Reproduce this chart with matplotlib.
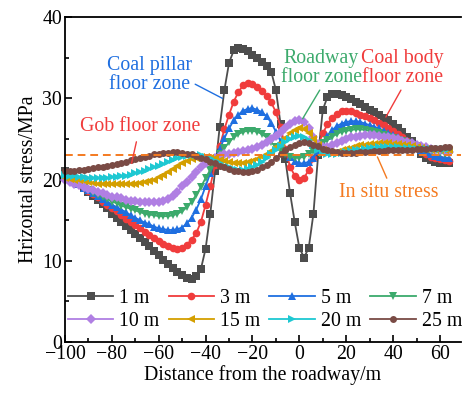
import matplotlib
matplotlib.use("Agg")
import matplotlib.pyplot as plt
import numpy as np
from matplotlib.ticker import MultipleLocator

plt.rcParams['font.family'] = ['Liberation Serif', 'DejaVu Serif']
plt.rcParams['mathtext.fontset'] = 'stix'

distance = np.arange(-100, 65, 2)

s1m = [21.0, 20.5, 20.0, 19.5, 19.0, 18.5, 18.0, 17.5, 17.0, 16.5,
       15.8, 15.3, 14.8, 14.3, 13.8, 13.3, 12.8, 12.3, 11.8, 11.2,
       10.7, 10.1, 9.6, 9.1, 8.6, 8.2, 7.9, 7.8, 8.1, 9.0,
       11.5, 15.8, 21.0, 26.5, 31.0, 34.4, 35.9, 36.2, 36.1, 35.8,
       35.4, 35.0, 34.5, 34.0, 33.3, 31.0, 26.8, 22.5, 18.4, 14.8,
       11.6, 10.4, 11.6, 15.8, 23.0, 28.6, 30.2, 30.5, 30.6, 30.4,
       30.2, 29.9, 29.6, 29.3, 29.0, 28.6, 28.3, 28.0, 27.6, 27.3,
       26.9, 26.4, 25.9, 25.3, 24.7, 23.9, 23.2, 22.7, 22.4, 22.2,
       22.1, 22.0, 22.0]
s3m = [20.6, 20.2, 19.8, 19.4, 19.0, 18.6, 18.2, 17.8, 17.3, 16.9,
       16.5, 16.1, 15.6, 15.2, 14.8, 14.4, 14.0, 13.6, 13.2, 12.8,
       12.4, 12.1, 11.8, 11.6, 11.4, 11.6, 12.0, 12.6, 13.4, 14.8,
       16.9, 19.2, 21.8, 24.1, 26.2, 28.0, 29.6, 30.8, 31.6, 31.9,
       31.8, 31.4, 30.9, 30.3, 29.5, 28.3, 26.5, 23.8, 21.6, 20.5,
       20.0, 20.2, 21.2, 22.6, 24.2, 25.7, 26.8, 27.6, 28.1, 28.4,
       28.4, 28.4, 28.2, 28.0, 27.8, 27.6, 27.3, 27.0, 26.7, 26.4,
       26.0, 25.6, 25.2, 24.8, 24.4, 24.0, 23.5, 23.1, 22.8, 22.6,
       22.5, 22.4, 22.3]
s5m = [20.4, 20.1, 19.7, 19.4, 19.0, 18.7, 18.3, 18.0, 17.6, 17.3,
       16.9, 16.6, 16.3, 16.0, 15.6, 15.3, 15.0, 14.7, 14.5, 14.2,
       14.0, 13.9, 13.8, 13.8, 13.9, 14.1, 14.6, 15.3, 16.3, 17.6,
       19.2, 20.8, 22.3, 23.8, 25.1, 26.3, 27.3, 28.0, 28.5, 28.7,
       28.8, 28.6, 28.3, 27.8, 27.0, 25.9, 24.7, 23.6, 22.8, 22.3,
       22.0, 22.0, 22.2, 22.7, 23.5, 24.5, 25.4, 26.1, 26.6, 26.9,
       27.1, 27.2, 27.2, 27.1, 26.9, 26.7, 26.5, 26.3, 26.0, 25.8,
       25.5, 25.2, 24.9, 24.6, 24.3, 24.0, 23.7, 23.4, 23.1, 22.9,
       22.8, 22.7, 22.6]
s7m = [20.2, 19.9, 19.6, 19.3, 19.0, 18.7, 18.4, 18.1, 17.9, 17.6,
       17.3, 17.1, 16.8, 16.6, 16.4, 16.2, 16.0, 15.8, 15.7, 15.6,
       15.5, 15.5, 15.5, 15.6, 15.8, 16.1, 16.6, 17.3, 18.1, 19.1,
       20.2, 21.2, 22.2, 23.1, 23.9, 24.6, 25.2, 25.6, 25.9, 26.0,
       26.0, 25.9, 25.6, 25.2, 24.6, 24.0, 23.5, 23.1, 22.8, 22.7,
       22.7, 22.8, 23.1, 23.5, 24.0, 24.5, 24.9, 25.3, 25.6, 25.9,
       26.0, 26.1, 26.2, 26.2, 26.1, 26.0, 25.9, 25.7, 25.5, 25.3,
       25.1, 24.9, 24.7, 24.5, 24.3, 24.1, 23.9, 23.7, 23.5, 23.4,
       23.3, 23.2, 23.1]
s10m = [19.9, 19.7, 19.5, 19.3, 19.1, 18.9, 18.7, 18.5, 18.3, 18.1,
        17.9, 17.8, 17.7, 17.5, 17.4, 17.4, 17.3, 17.3, 17.3, 17.3,
        17.3, 17.4, 17.6, 18.0, 18.5, 19.2, 19.7, 20.3, 20.9, 21.5,
        22.0, 22.4, 22.7, 22.9, 23.1, 23.2, 23.3, 23.4, 23.5, 23.6,
        23.8, 24.0, 24.3, 24.6, 25.0, 25.4, 25.9, 26.4, 26.9, 27.2,
        27.3, 27.1, 26.4, 25.3, 24.4, 24.0, 24.0, 24.2, 24.5, 24.8,
        25.0, 25.2, 25.3, 25.4, 25.5, 25.5, 25.5, 25.4, 25.3, 25.2,
        25.1, 25.0, 24.8, 24.6, 24.5, 24.3, 24.1, 24.0, 23.8, 23.7,
        23.6, 23.5, 23.4]
s15m = [20.2, 20.1, 20.0, 19.9, 19.8, 19.7, 19.6, 19.5, 19.5, 19.4,
        19.4, 19.4, 19.4, 19.4, 19.5, 19.5, 19.6, 19.7, 19.8, 20.0,
        20.3, 20.6, 20.9, 21.3, 21.7, 22.0, 22.3, 22.5, 22.7, 22.8,
        22.8, 22.7, 22.6, 22.4, 22.3, 22.2, 22.1, 22.1, 22.1, 22.2,
        22.3, 22.5, 22.8, 23.1, 23.5, 24.0, 24.5, 25.1, 25.7, 26.1,
        26.3, 26.2, 25.8, 25.0, 24.2, 23.6, 23.3, 23.3, 23.4, 23.6,
        23.8, 23.9, 24.1, 24.2, 24.3, 24.4, 24.4, 24.5, 24.5, 24.5,
        24.4, 24.4, 24.3, 24.2, 24.1, 24.0, 23.9, 23.8, 23.7, 23.7,
        23.6, 23.6, 23.6]
s20m = [20.6, 20.5, 20.4, 20.3, 20.3, 20.2, 20.2, 20.2, 20.2, 20.2,
        20.3, 20.3, 20.4, 20.5, 20.6, 20.8, 20.9, 21.1, 21.3, 21.5,
        21.7, 21.9, 22.2, 22.4, 22.6, 22.8, 22.9, 23.0, 23.0, 23.0,
        22.8, 22.6, 22.3, 22.0, 21.7, 21.5, 21.3, 21.2, 21.2, 21.3,
        21.5, 21.8, 22.2, 22.6, 23.1, 23.6, 24.1, 24.6, 25.0, 25.3,
        25.4, 25.3, 24.9, 24.3, 23.7, 23.3, 23.1, 23.1, 23.2, 23.3,
        23.4, 23.5, 23.6, 23.7, 23.8, 23.9, 23.9, 24.0, 24.0, 24.0,
        24.0, 24.0, 23.9, 23.9, 23.9, 23.8, 23.8, 23.8, 23.8, 23.8,
        23.8, 23.8, 23.8]
s25m = [21.1, 21.1, 21.1, 21.2, 21.2, 21.3, 21.4, 21.5, 21.6, 21.7,
        21.8, 21.9, 22.1, 22.2, 22.4, 22.5, 22.7, 22.8, 22.9, 23.1,
        23.2, 23.3, 23.3, 23.4, 23.4, 23.3, 23.2, 23.1, 22.9, 22.7,
        22.5, 22.2, 22.0, 21.7, 21.5, 21.3, 21.1, 21.0, 20.9, 20.9,
        21.0, 21.2, 21.5, 21.8, 22.2, 22.7, 23.1, 23.6, 24.0, 24.3,
        24.5, 24.6, 24.5, 24.3, 24.1, 23.8, 23.6, 23.5, 23.4, 23.3,
        23.3, 23.3, 23.3, 23.4, 23.4, 23.4, 23.5, 23.5, 23.5, 23.6,
        23.6, 23.6, 23.7, 23.7, 23.7, 23.8, 23.8, 23.8, 23.9, 23.9,
        23.9, 24.0, 24.0]

in_situ = 23.0

labels = ['1 m', '3 m', '5 m', '7 m', '10 m', '15 m', '20 m', '25 m']
series = [s1m, s3m, s5m, s7m, s10m, s15m, s20m, s25m]
colors = ['#4d4d4d', '#f03c3c', '#1f6fe0', '#3caa6c', '#b07fe3', '#d49f00', '#1ec8d2', '#7a4b45']
markers = ['s', 'o', '^', 'v', 'D', '<', '>', 'o']
msizes = [5.5, 5.5, 6, 6, 5, 6, 6, 5]

fig = plt.figure(figsize=(4.62, 4.0), dpi=100)
ax = fig.add_axes([0.1407, 0.145, 0.8573, 0.812])

handles = {}
for lab, ys, c, m, ms in zip(labels, series, colors, markers, msizes):
    h, = ax.plot(distance, ys, color=c, marker=m, markersize=ms, lw=1.3,
                 markeredgewidth=0, label=lab, clip_on=False)
    handles[lab] = h

ax.axhline(in_situ, color='#f47a20', lw=1.4, ls=(0, (4, 2.5)))

fs = 14.3
ax.set_xlim(-100, 69)
ax.set_ylim(0, 40)
ax.xaxis.set_major_locator(MultipleLocator(20))
ax.xaxis.set_minor_locator(MultipleLocator(10))
ax.yaxis.set_major_locator(MultipleLocator(10))
ax.yaxis.set_minor_locator(MultipleLocator(5))
ax.tick_params(which='both', direction='in', labelsize=fs, top=False, right=False)
ax.tick_params(which='major', length=5, width=1.2, pad=2)
ax.tick_params(which='minor', length=3, width=1.2)
for sp in ax.spines.values():
    sp.set_linewidth(1.3)
ax.spines['right'].set_visible(False)

ax.set_xlabel('Distance from the roadway/m', fontsize=fs, labelpad=1)
ax.set_ylabel('Hrizontal stress/MPa', fontsize=fs, labelpad=3)

order = ['1 m', '10 m', '3 m', '15 m', '5 m', '20 m', '7 m', '25 m']
ax.legend([handles[k] for k in order], order, ncol=4, loc='center',
          bbox_to_anchor=(0.505, 0.098), frameon=False, fontsize=fs,
          handlelength=2.3, columnspacing=0.45, handletextpad=0.3,
          labelspacing=0.2, borderaxespad=0.0, borderpad=0.0)

ax.annotate('Coal pillar\nfloor zone', xy=(-32.8, 30.0), xytext=(-63.8, 32.9),
            color='#1f6fe0', fontsize=fs, ha='center', va='center', linespacing=1.0,
            arrowprops=dict(arrowstyle='-', color='#1f6fe0', lw=1.0, shrinkA=0, shrinkB=0,
                            relpos=(0.95, 0.35)))
ax.annotate('Gob floor zone', xy=(-71.6, 22.0), xytext=(-68.1, 26.5),
            color='#f03c3c', fontsize=fs, ha='center', va='center',
            arrowprops=dict(arrowstyle='-', color='#f03c3c', lw=1.0, shrinkA=2, shrinkB=0))
ax.annotate('Roadway\nfloor zone', xy=(1.4, 27.5), xytext=(9.4, 33.7),
            color='#3caa6c', fontsize=fs, ha='center', va='center', linespacing=1.0,
            arrowprops=dict(arrowstyle='-', color='#3caa6c', lw=1.0, shrinkA=0, shrinkB=0,
                            relpos=(0.5, 0.0)))
ax.annotate('Coal body\nfloor zone', xy=(36.9, 27.7), xytext=(44.0, 33.7),
            color='#f03c3c', fontsize=fs, ha='center', va='center', linespacing=1.0,
            arrowprops=dict(arrowstyle='-', color='#f03c3c', lw=1.0, shrinkA=0, shrinkB=0,
                            relpos=(0.5, 0.0)))
ax.annotate('In situ stress', xy=(33.3, 22.8), xytext=(38.3, 18.35),
            color='#f47a20', fontsize=fs, ha='center', va='center',
            arrowprops=dict(arrowstyle='-', color='#f47a20', lw=1.0, shrinkA=2, shrinkB=0,
                            relpos=(0.5, 1.0)))

fig.savefig('out.png', dpi=100)
